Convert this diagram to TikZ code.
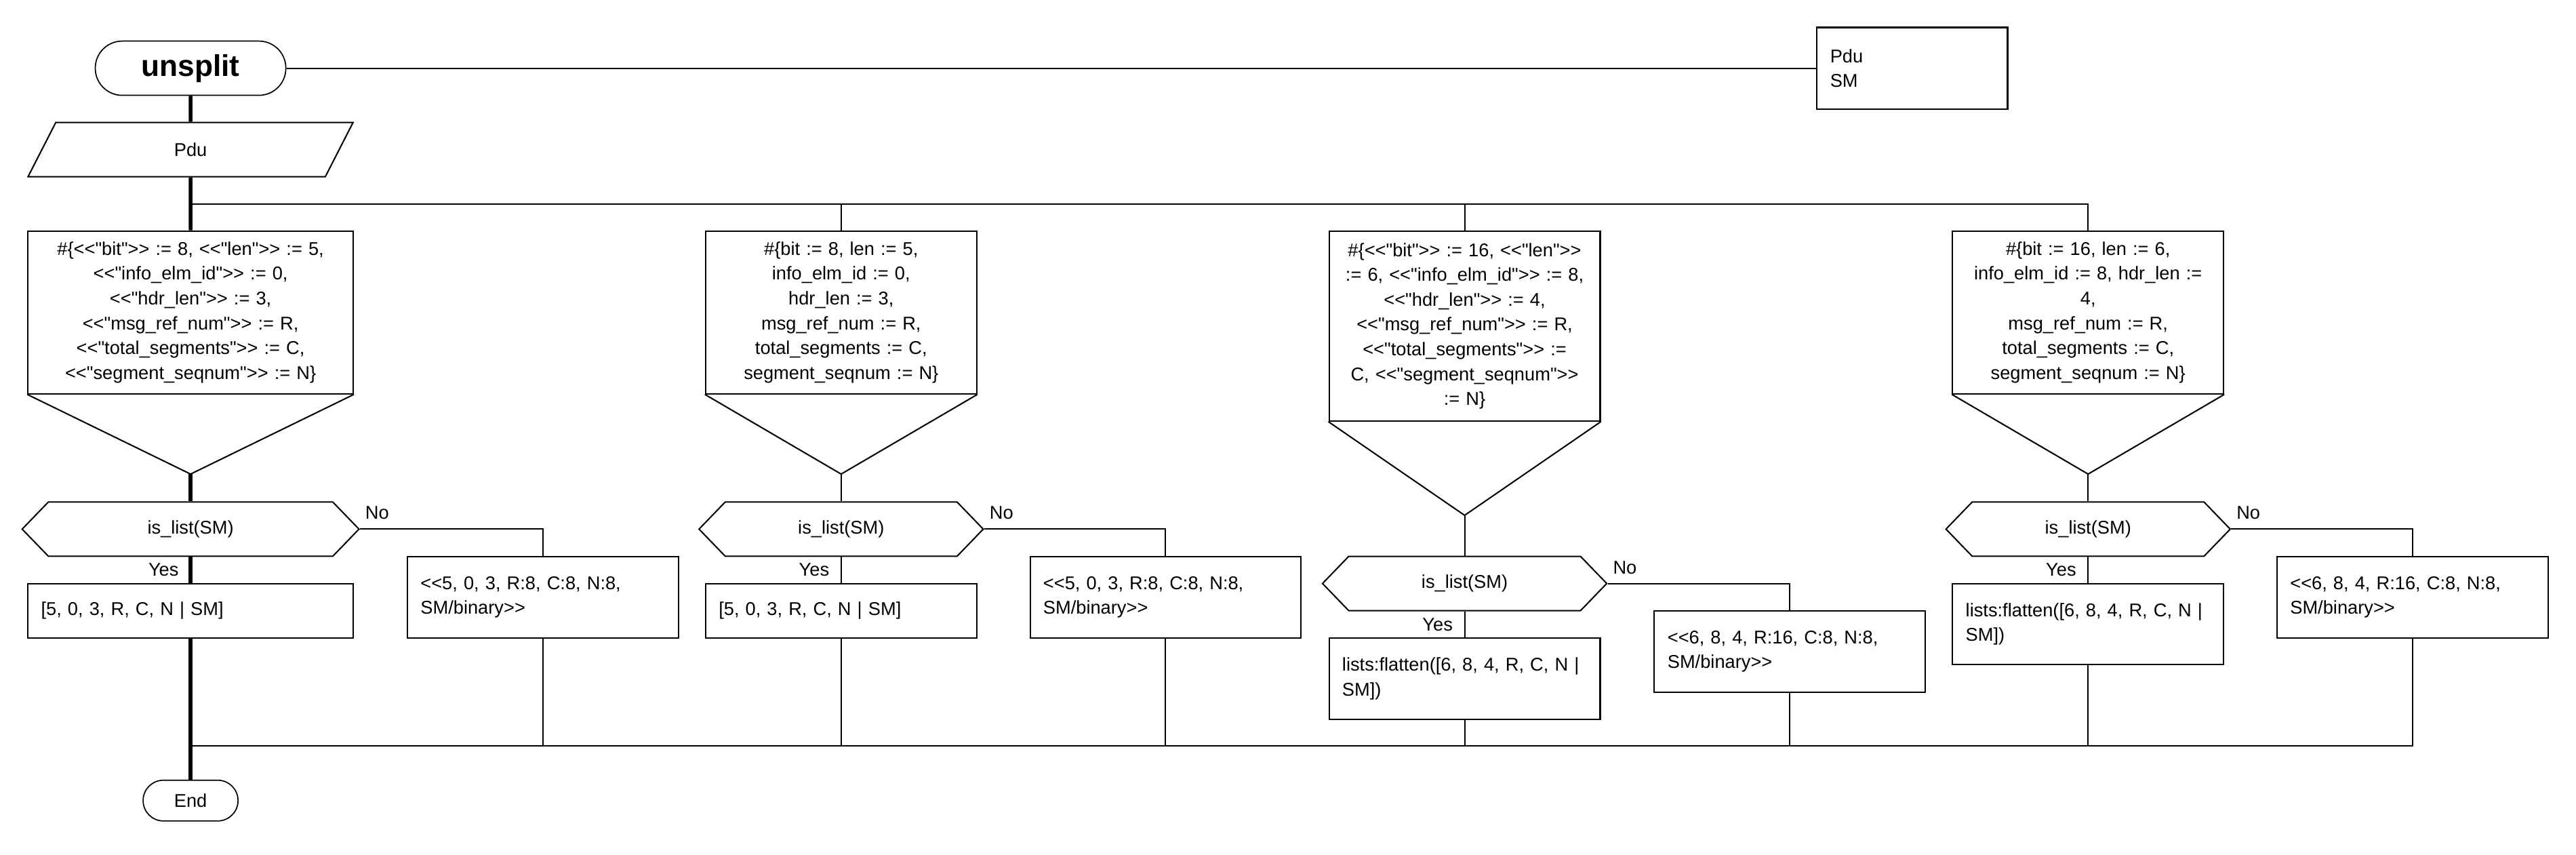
\documentclass[tikz,border=0pt]{standalone}
\usepackage{fontspec}
\newfontfamily\drakonfont{Liberation Sans}
\usetikzlibrary{shapes.geometric, shapes.symbols}
\definecolor{boxborder}{RGB}{0,0,0}
\tikzset{
    base/.style={draw=boxborder, line width=0.6pt, inner sep=0pt,
        font=\drakonfont\fontsize{8}{10.75}\selectfont},
    term/.style={base, rectangle, line width=0.5pt},
    action/.style={base, rectangle, inner xsep=2mm, align=left},
    loopbox/.style={base, rectangle, inner xsep=1mm, align=center},
    decision/.style={base, signal, signal to=west and east, signal pointer angle=92,
        minimum height=8.25mm},
    inputbox/.style={base, trapezium, trapezium left angle=76, trapezium right angle=104,
        trapezium stretches=true, minimum width=49.5mm, minimum height=8.25mm},
    flow/.style={line width=0.6pt},
    mainflow/.style={line width=1.6pt},
    lbl/.style={font=\drakonfont\fontsize{8}{10.75}\selectfont, inner sep=0pt}
}

\begin{document}
\begin{tikzpicture}[x=0.25mm, y=-0.25mm]
    \useasboundingbox[fill=white] (0,0) rectangle (1568,520);

    % header
    \node[term, rounded corners=4.1mm, minimum width=29mm, minimum height=8.25mm,
        font=\drakonfont\fontsize{13}{15}\selectfont\bfseries] (start) at (116,41.5) {unsplit};
    \node[action, text width=25mm, minimum height=12.4mm] (params) at (1164,41.5) {Pdu\\SM};
    \node[inputbox] (pdu) at (116,91) {Pdu};

    % select boxes
    \node[loopbox, text width=47.5mm, minimum height=24.75mm] (sel1) at (116,190.1)
        {\#\{<<"bit">> := 8, <<"len">> := 5,\\ <<"info\_elm\_id">> := 0,\\ <<"hdr\_len">> := 3,\\ <<"msg\_ref\_num">> := R,\\ <<"total\_segments">> := C,\\ <<"segment\_seqnum">> := N\}};
    \node[loopbox, text width=39.25mm, minimum height=24.75mm] (sel2) at (512,190.1)
        {\#\{bit := 8, len := 5,\\ info\_elm\_id := 0,\\ hdr\_len := 3,\\ msg\_ref\_num := R,\\ total\_segments := C,\\ segment\_seqnum := N\}};
    \node[loopbox, text width=39.25mm, minimum height=28.9mm] (sel3) at (891.5,198.4)
        {\#\{<<"bit">> := 16, <<"len">>\\ := 6, <<"info\_elm\_id">> := 8,\\ <<"hdr\_len">> := 4,\\ <<"msg\_ref\_num">> := R,\\ <<"total\_segments">> :=\\ C, <<"segment\_seqnum">>\\ := N\}};
    \node[loopbox, text width=39.25mm, minimum height=24.75mm] (sel4) at (1271,190.1)
        {\#\{bit := 16, len := 6,\\ info\_elm\_id := 8, hdr\_len :=\\ 4,\\ msg\_ref\_num := R,\\ total\_segments := C,\\ segment\_seqnum := N\}};

    \coordinate (tip1) at (116,288.5);
    \coordinate (tip2) at (512,288.5);
    \coordinate (tip3) at (891.5,313.6);
    \coordinate (tip4) at (1271,288.5);
    \draw[flow] (sel1.south west) -- (tip1) -- (sel1.south east);
    \draw[flow] (sel2.south west) -- (tip2) -- (sel2.south east);
    \draw[flow] (sel3.south west) -- (tip3) -- (sel3.south east);
    \draw[flow] (sel4.south west) -- (tip4) -- (sel4.south east);

    % questions
    \node[decision, minimum width=51.25mm] (d1) at (116,322) {is\_list(SM)};
    \node[decision, minimum width=43.25mm] (d2) at (512,322) {is\_list(SM)};
    \node[decision, minimum width=43.25mm] (d3) at (891.5,355.1) {is\_list(SM)};
    \node[decision, minimum width=43.25mm] (d4) at (1271,322) {is\_list(SM)};

    % yes / no branches
    \node[action, text width=45.5mm, minimum height=8.25mm] (yes1) at (116,371.6) {[5, 0, 3, R, C, N | SM]};
    \node[action, text width=37.25mm, minimum height=8.25mm] (yes2) at (512,371.6) {[5, 0, 3, R, C, N | SM]};
    \node[action, text width=37.25mm, minimum height=12.35mm] (yes3) at (891.5,412.9) {lists:flatten([6, 8, 4, R, C, N |\\SM])};
    \node[action, text width=37.25mm, minimum height=12.35mm] (yes4) at (1271,379.8) {lists:flatten([6, 8, 4, R, C, N |\\SM])};

    \node[action, text width=37.25mm, minimum height=12.4mm] (no1) at (330.5,363.5) {<<5, 0, 3, R:8, C:8, N:8,\\SM/binary>>};
    \node[action, text width=37.25mm, minimum height=12.4mm] (no2) at (709.5,363.5) {<<5, 0, 3, R:8, C:8, N:8,\\SM/binary>>};
    \node[action, text width=37.25mm, minimum height=12.4mm] (no3) at (1089.5,396.5) {<<6, 8, 4, R:16, C:8, N:8,\\SM/binary>>};
    \node[action, text width=37.25mm, minimum height=12.4mm] (no4) at (1468.5,363.5) {<<6, 8, 4, R:16, C:8, N:8,\\SM/binary>>};

    \node[lbl, anchor=base west] (lno1) at ([xshift=0.75mm, yshift=1.5mm]d1.east) {No};
    \node[lbl, anchor=base west] (lno2) at ([xshift=0.75mm, yshift=1.5mm]d2.east) {No};
    \node[lbl, anchor=base west] (lno3) at ([xshift=0.75mm, yshift=1.5mm]d3.east) {No};
    \node[lbl, anchor=base west] (lno4) at ([xshift=0.75mm, yshift=1.5mm]d4.east) {No};
    \node[lbl, anchor=base east] (lyes1) at ([xshift=-1.75mm, yshift=-2.95mm]d1.south) {Yes};
    \node[lbl, anchor=base east] (lyes2) at ([xshift=-1.75mm, yshift=-2.95mm]d2.south) {Yes};
    \node[lbl, anchor=base east] (lyes3) at ([xshift=-1.75mm, yshift=-2.95mm]d3.south) {Yes};
    \node[lbl, anchor=base east] (lyes4) at ([xshift=-1.75mm, yshift=-2.95mm]d4.south) {Yes};

    \node[term, rounded corners=3.1mm, minimum width=14.45mm, minimum height=6.2mm] (stop) at (116,487.2) {End};

    % connectors
    \coordinate (fork) at (116,124);
    \coordinate (merge) at (116,454);
    \draw[flow] (start.east) -- (params.west);
    \draw[mainflow] (start.south) -- (pdu.north);
    \draw[mainflow] (pdu.south) -- (sel1.north);
    \draw[flow] (fork) -| (sel4.north);
    \draw[flow] (fork -| sel2.north) -- (sel2.north);
    \draw[flow] (fork -| sel3.north) -- (sel3.north);

    \draw[mainflow] (tip1) -- (d1.north);
    \draw[flow] (tip2) -- (d2.north);
    \draw[flow] (tip3) -- (d3.north);
    \draw[flow] (tip4) -- (d4.north);

    \draw[mainflow] (d1.south) -- (yes1.north);
    \draw[flow] (d2.south) -- (yes2.north);
    \draw[flow] (d3.south) -- (yes3.north);
    \draw[flow] (d4.south) -- (yes4.north);
    \draw[flow] (d1.east) -| (no1.north);
    \draw[flow] (d2.east) -| (no2.north);
    \draw[flow] (d3.east) -| (no3.north);
    \draw[flow] (d4.east) -| (no4.north);

    \draw[flow] (merge) -- (merge -| no4.south) -- (no4.south);
    \draw[flow] (no1.south) -- (no1.south |- merge);
    \draw[flow] (yes2.south) -- (yes2.south |- merge);
    \draw[flow] (no2.south) -- (no2.south |- merge);
    \draw[flow] (yes3.south) -- (yes3.south |- merge);
    \draw[flow] (no3.south) -- (no3.south |- merge);
    \draw[flow] (yes4.south) -- (yes4.south |- merge);
    \draw[mainflow] (yes1.south) -- (stop.north);

\end{tikzpicture}
\end{document}
